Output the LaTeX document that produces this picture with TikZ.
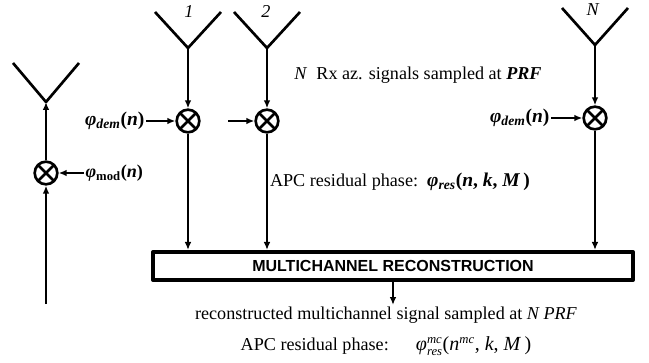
\documentclass[tikz,border=0pt]{standalone}
\usepackage{fontspec}
\setmainfont{Liberation Serif}
\setsansfont{Liberation Sans}
\usetikzlibrary{arrows.meta}
\newcommand{\bphi}[2]{\textbf{\textit{φ}\textsubscript{#1}(#2)}}
\newcommand{\smit}[1]{\mbox{\fontsize{9.5}{10}\selectfont\textit{#1}}}
\tikzset{
  sig/.style={line width=2pt,-{Latex[length=6pt,width=5pt]}},
  ant/.style={line width=2pt},
  mixer/.style={circle,draw,line width=2pt,minimum size=17pt,inner sep=0pt,
    path picture={\draw[line width=2pt]
      (path picture bounding box.north west) -- (path picture bounding box.south east)
      (path picture bounding box.north east) -- (path picture bounding box.south west);}},
  lbl/.style={font=\fontsize{13.6}{16}\selectfont,inner sep=1pt},
  phlbl/.style={font=\fontsize{14.6}{16}\selectfont,inner sep=1pt},
  mcbox/.style={draw,line width=3pt,minimum width=360pt,minimum height=21pt,
    font=\sffamily\bfseries\fontsize{12}{14}\selectfont},
}
\begin{document}
\begin{tikzpicture}[x=0.75pt,y=-0.75pt,line join=round]
  \useasboundingbox (0,0) rectangle (649,363);
  % antenna apexes
  \coordinate (antT) at (46,102);
  \coordinate (ant1) at (188,48);
  \coordinate (ant2) at (267,48);
  \coordinate (antN) at (595,45);

  % antennas
  \foreach \a/\h in {antT/39,ant1/36,ant2/36,antN/37}
    \draw[ant] (\a) ++(-33,-\h) -- (\a) -- ++(33,-\h);

  % antenna numbers
  \node[lbl] (num1) at (189,12) {\textit{1}};
  \node[lbl] (num2) at (266,12) {\textit{2}};
  \node[lbl] (numN) at (593,10) {\textit{N}};

  % mixers
  \node[mixer] (mixT) at (46,173) {};
  \node[mixer] (mix1) at (188,121) {};
  \node[mixer] (mix2) at (267,121) {};
  \node[mixer] (mixN) at (595,118) {};

  % reconstruction block
  \node[mcbox] (mcr) at (393,266) {MULTICHANNEL RECONSTRUCTION};

  % transmit side
  \coordinate (txin) at (46,304);
  \draw[sig] (txin) -- (mixT);
  \draw[sig] (mixT) -- (antT);
  \node[lbl,anchor=west] (modT) at (84,173) {\bphi{mod}{\textit{n}}};
  \draw[sig] (modT) -- (mixT);

  % receive channels
  \foreach \c in {1,2,N} {
    \draw[sig] (ant\c) -- (mix\c);
    \draw[sig] (mix\c) -- (mix\c |- mcr.north);
  }
  \node[phlbl,anchor=east] (dem1) at (146,121) {\bphi{\textit{dem}}{\textit{n}}};
  \draw[sig] (dem1) -- (mix1);
  \coordinate (dem2) at (228,121);
  \draw[sig] (dem2) -- (mix2);
  \node[phlbl,anchor=east] (demN) at (551,118) {\bphi{\textit{dem}}{\textit{n}}};
  \draw[sig] (demN) -- (mixN);

  % texts
  \node[lbl] (rxtxt) at (418,75) {\textit{N}\ \ Rx az. signals sampled at \textbf{\textit{PRF}}};
  \node[lbl] (apc) at (400,182) {APC residual phase:\ \ {\fontsize{14.6}{16}\selectfont\bphi{\textit{res}}{\textit{n}, \textit{k}, \textit{M}\,}}};

  % output
  \coordinate (outp) at (393,305);
  \draw[sig] (mcr) -- (outp);
  \node[lbl] (rec) at (386,315) {reconstructed multichannel signal sampled at \textit{N PRF}};
  \node[lbl] (apcmc) at (386,346) {APC residual phase:\hspace{1.5em}{\fontsize{15}{16}\selectfont
    $\mbox{\textit{φ}}^{\smit{mc}}_{\smit{res}}$(\textit{n}$^{\smit{mc}}$, \textit{k}, \textit{M}\,)}};
\end{tikzpicture}
\end{document}
